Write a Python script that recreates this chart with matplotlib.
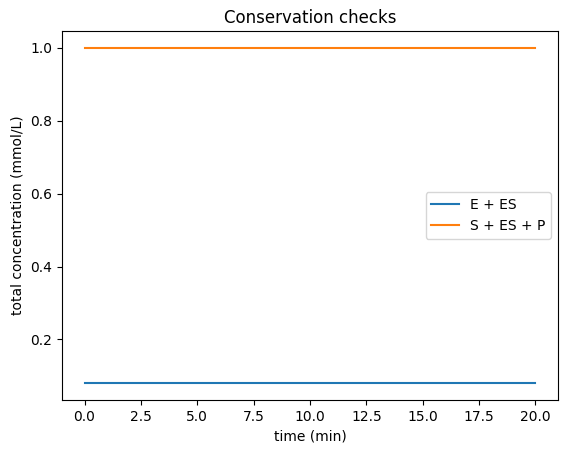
import matplotlib
matplotlib.use("Agg")
import matplotlib.pyplot as plt

# conservation totals over time
time_min = [0.0, 5.0, 10.0, 15.0, 20.0]
e_plus_es = [0.08, 0.08, 0.08, 0.08, 0.08]
s_plus_es_plus_p = [1.0, 1.0, 1.0, 1.0, 1.0]

fig = plt.figure(figsize=(5.67, 4.54), dpi=100)
ax = fig.add_axes([0.1093, 0.1189, 0.8748, 0.8128])

ax.plot(time_min, e_plus_es, label="E + ES")
ax.plot(time_min, s_plus_es_plus_p, label="S + ES + P")

ax.set_title("Conservation checks")
ax.set_xlabel("time (min)")
ax.set_ylabel("total concentration (mmol/L)")
ax.legend(loc="center right")

fig.savefig("out.png", dpi=100)
